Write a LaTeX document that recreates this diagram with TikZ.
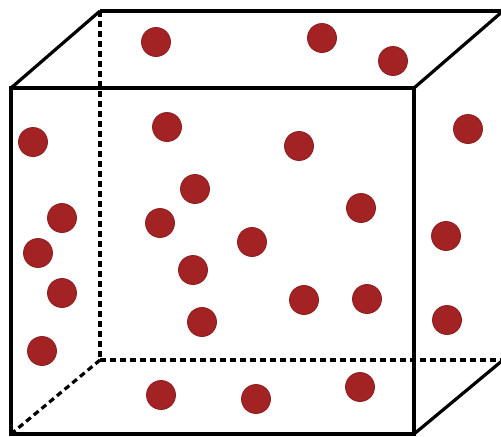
\documentclass[tikz,border=0pt]{standalone}
\usepackage{tikz}
\usepackage{xcolor}
\usetikzlibrary{positioning}

\definecolor{dotred}{RGB}{163,34,36}
\definecolor{dotrim}{RGB}{140,28,30}

\begin{document}
\begin{tikzpicture}[
x=0.5pt, y=-0.5pt,
edge/.style={line width=1.6pt, black},
hidden/.style={line width=1.6pt, black, dash pattern=on 3pt off 2pt},
particle/.style={circle, fill=dotred, draw=dotrim, line width=0.4pt, minimum size=14.5pt, inner sep=0pt}
]

\useasboundingbox (0,0) rectangle (501,436);
\clip (0,0) rectangle (501,436);

% Esquinas cara frontal
\coordinate (ftl) at (11,88);
\coordinate (ftr) at (414,88);
\coordinate (fbr) at (414,434);
\coordinate (fbl) at (11,434);

% Esquinas cara trasera
\coordinate (btl) at (100,11);
\coordinate (btr) at (503,11);
\coordinate (bbr) at (503,360);
\coordinate (bbl) at (100,360);

% Aristas ocultas
\draw[hidden] (btl) -- (bbl);
\draw[hidden] (bbl) -- (bbr);
\draw[hidden] (bbl) -- (fbl);

% Aristas visibles
\draw[edge] (ftl) -- (ftr) -- (fbr) -- (fbl) -- cycle;
\draw[edge] (btl) -- (btr) -- (bbr);
\draw[edge] (ftl) -- (btl);
\draw[edge] (ftr) -- (btr);
\draw[edge] (fbr) -- (bbr);

% Particulas - arriba
\node[particle] (p1) at (156,42) {};
\node[particle] (p2) at (322,38) {};
\node[particle] (p3) at (393,61) {};

% Particulas - centro
\node[particle] (p4) at (33,142) {};
\node[particle] (p5) at (167,127) {};
\node[particle] (p6) at (299,146) {};
\node[particle] (p7) at (468,129) {};
\node[particle] (p8) at (195,189) {};
\node[particle] (p9) at (62,218) {};
\node[particle] (p10) at (160,223) {};
\node[particle] (p11) at (361,208) {};
\node[particle] (p12) at (38,253) {};
\node[particle] (p13) at (252,242) {};
\node[particle] (p14) at (446,236) {};
\node[particle] (p15) at (193,270) {};
\node[particle] (p16) at (62,293) {};
\node[particle] (p17) at (304,300) {};
\node[particle] (p18) at (367,299) {};
\node[particle] (p19) at (202,322) {};
\node[particle] (p20) at (447,320) {};
\node[particle] (p21) at (42,351) {};

% Particulas - abajo
\node[particle] (p22) at (161,395) {};
\node[particle] (p23) at (256,399) {};
\node[particle] (p24) at (360,387) {};

\end{tikzpicture}
\end{document}
